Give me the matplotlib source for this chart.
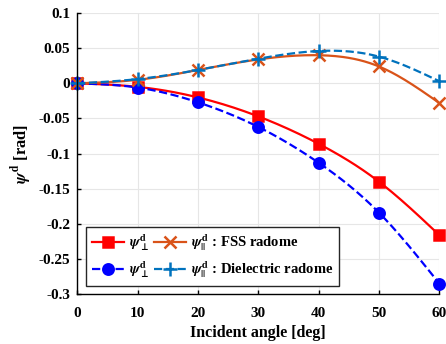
import numpy as np
import matplotlib
matplotlib.use('Agg')
from matplotlib import pyplot as plt

# data
angle = [0, 10, 20, 30, 40, 50, 60]
perp_fss = [0, -0.005, -0.020, -0.047, -0.086, -0.140, -0.216]
par_fss = [0, 0.005, 0.019, 0.034, 0.040, 0.024, -0.028]
perp_diel = [0, -0.006, -0.027, -0.062, -0.113, -0.184, -0.285]
par_diel = [0, 0.006, 0.019, 0.035, 0.046, 0.038, 0.003]

plt.rcParams['font.family'] = ['Liberation Serif', 'DejaVu Serif']
plt.rcParams['font.weight'] = 'bold'
plt.rcParams['mathtext.fontset'] = 'stix'


def smooth(x, y, n=200):
    # natural cubic spline just for drawing the line through the points
    x = np.asarray(x, float)
    y = np.asarray(y, float)
    m = len(x)
    h = np.diff(x)
    A = np.zeros((m, m))
    b = np.zeros(m)
    A[0, 0] = A[-1, -1] = 1
    for i in range(1, m - 1):
        A[i, i - 1] = h[i - 1]
        A[i, i] = 2 * (h[i - 1] + h[i])
        A[i, i + 1] = h[i]
        b[i] = 6 * ((y[i + 1] - y[i]) / h[i] - (y[i] - y[i - 1]) / h[i - 1])
    M = np.linalg.solve(A, b)
    xs = np.linspace(x[0], x[-1], n)
    k = np.clip(np.searchsorted(x, xs) - 1, 0, m - 2)
    t0 = x[k + 1] - xs
    t1 = xs - x[k]
    hk = h[k]
    ys = (M[k] * t0**3 + M[k + 1] * t1**3) / (6 * hk) \
        + (y[k] / hk - M[k] * hk / 6) * t0 + (y[k + 1] / hk - M[k + 1] * hk / 6) * t1
    return xs, ys


fig = plt.figure(figsize=(4.46, 3.44), dpi=100)
ax = fig.add_axes([0.173, 0.145, 0.812, 0.817])

c_red = (1, 0, 0)
c_org = (0.85, 0.325, 0.098)
c_blu = (0, 0, 1)
c_mbl = (0, 0.447, 0.741)

series = [
    (perp_fss, c_red, '-', 's', 6.5, r'$\psi^{\mathbf{d}}_{\bot}$'),
    (perp_diel, c_blu, '--', 'o', 7.5, r'$\psi^{\mathbf{d}}_{\bot}$'),
    (par_fss, c_org, '-', 'x', 8.5, r'$\psi^{\mathbf{d}}_{||}$ : FSS radome'),
    (par_diel, c_mbl, '--', '+', 9.5, r'$\psi^{\mathbf{d}}_{||}$ : Dielectric radome'),
]
handles = []
for y, c, ls, mk, ms, lab in series:
    xs, ys = smooth(angle, y)
    ax.plot(xs, ys, color=c, ls=ls, lw=1.6)
    ax.plot(angle, y, ls='none', marker=mk, color=c, ms=ms, mew=1.8, clip_on=False)
    h, = ax.plot([], [], color=c, ls=ls, lw=1.6, marker=mk, ms=ms, mew=1.8, label=lab)
    handles.append(h)

ax.set_xlim(0, 60)
ax.set_ylim(-0.3, 0.1)
ax.set_xticks(np.arange(0, 61, 10))
ax.set_yticks([-0.3, -0.25, -0.2, -0.15, -0.1, -0.05, 0, 0.05, 0.1])
ax.set_yticklabels(['-0.3', '-0.25', '-0.2', '-0.15', '-0.1', '-0.05', '0', '0.05', '0.1'])
ax.tick_params(labelsize=11, direction='in', length=3, width=1)
ax.tick_params(axis='x', pad=9)
ax.tick_params(axis='y', pad=5)
ax.grid(True, color='#e6e6e6', lw=0.8)
ax.set_axisbelow(True)
ax.spines['top'].set_visible(False)
ax.spines['right'].set_visible(False)
ax.spines['left'].set_linewidth(1)
ax.spines['bottom'].set_linewidth(1)

ax.set_xlabel('Incident angle [deg]', fontsize=11.5, fontweight='bold', labelpad=4)
ax.set_ylabel(r'$\psi^{\mathbf{d}}$ [rad]', fontsize=12, fontweight='bold', labelpad=3)

leg = ax.legend(handles=handles, ncol=2, loc='lower left',
                bbox_to_anchor=(0.025, 0.03), fontsize=10.5, frameon=True,
                fancybox=False, edgecolor='#262626', framealpha=1,
                handlelength=2.2, columnspacing=0.4, handletextpad=0.3,
                borderpad=0.4, labelspacing=0.4, borderaxespad=0)
leg.get_frame().set_linewidth(1)

plt.savefig('out.png', dpi=100)
